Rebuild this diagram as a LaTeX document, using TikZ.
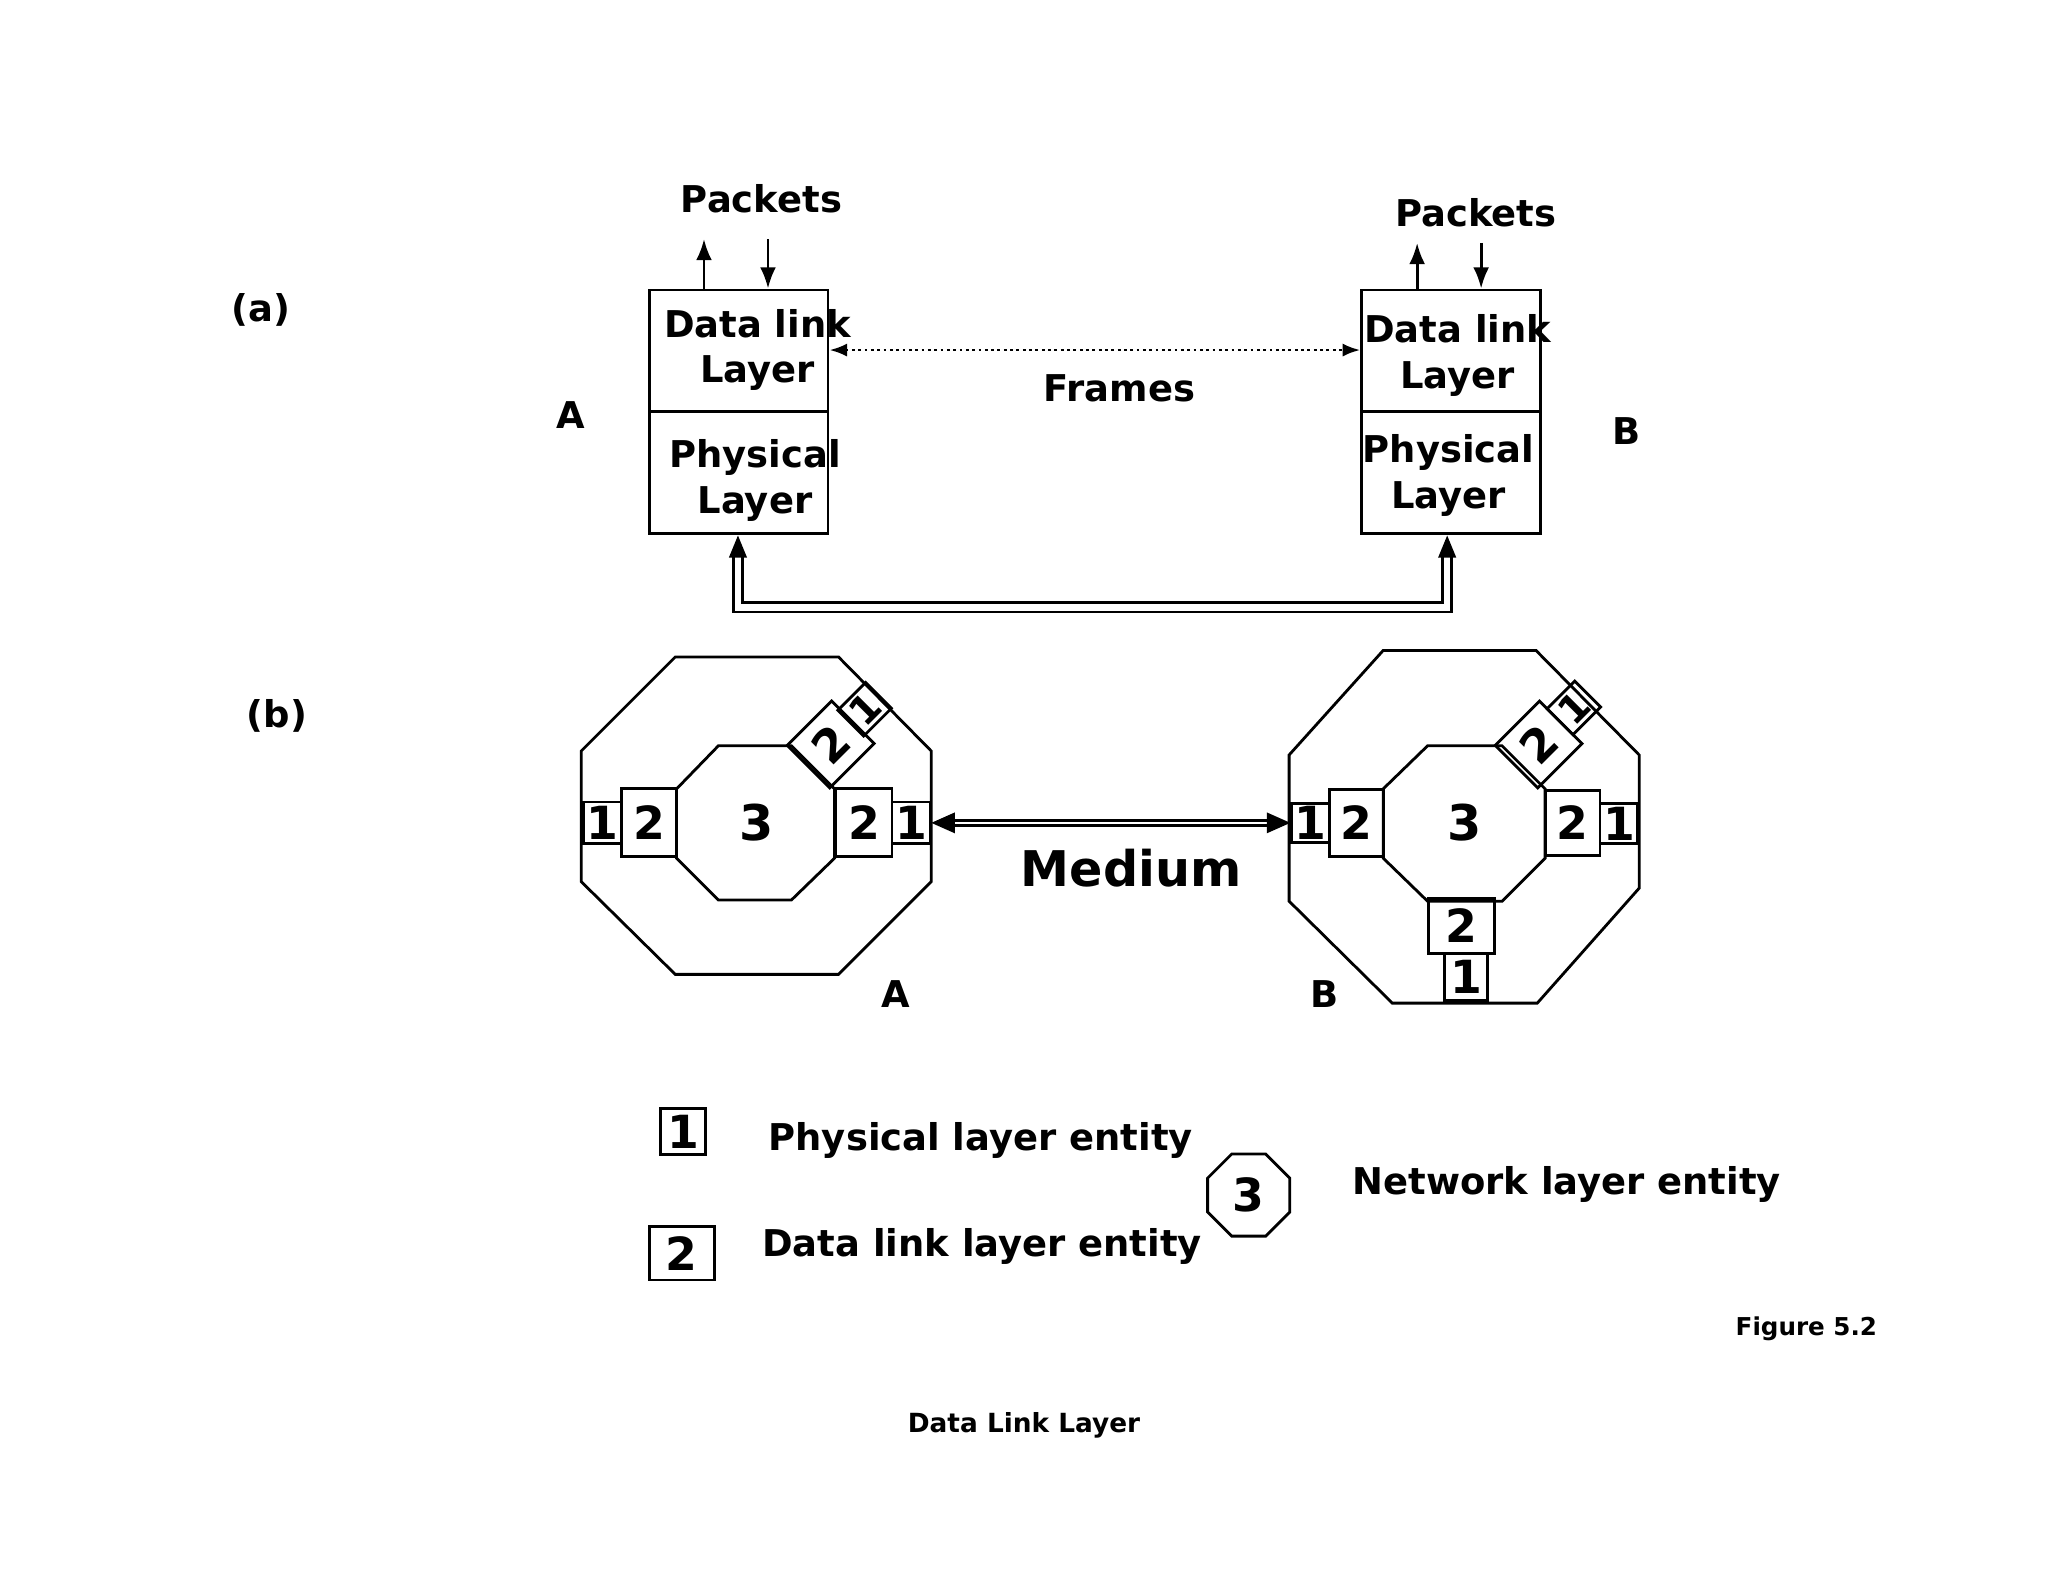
\documentclass[tikz,border=0pt]{standalone}
\usepackage{fontspec}
\setmainfont{DejaVu Sans}
\usetikzlibrary{arrows.meta,shapes.geometric}
\begin{document}
\begin{tikzpicture}[x=0.01306cm,y=-0.01306cm,
  lbl/.style={font=\bfseries\fontsize{10.5}{13}\selectfont},
  big/.style={font=\bfseries\fontsize{14}{16}\selectfont},
  ent/.style={draw,thick,inner sep=0pt,font=\bfseries\fontsize{13}{14}\selectfont},
  sm/.style={ent,font=\bfseries\fontsize{11}{12}\selectfont},
  lay/.style={draw,thick,minimum width=137*0.01306cm,minimum height=93*0.01306cm,inner sep=0pt},
  laytxt/.style={lbl,align=center,inner sep=0pt},
  oct/.style={thick}]
\useasboundingbox (0,0) rectangle (1568,1211);
% (a)
\node[lbl] (la) at (200,237) {(a)};
\node[lbl] (aA) at (437,318) {A};
\node[lbl] (aB) at (1245,330) {B};
\node[lay] (dlA) at (565.5,268.5) {};
\node[lay] (phA) at (565.5,362) {};
\node[lay] (dlB) at (1111,268.5) {};
\node[lay] (phB) at (1111,362) {};
\node[laytxt] (dlAt) at (580,268) {Data link\\Layer};
\node[laytxt] (phAt) at (578,368) {Physical\\Layer};
\node[laytxt] (dlBt) at (1116,272) {Data link\\Layer};
\node[laytxt] (phBt) at (1109,364) {Physical\\Layer};
\node[lbl] (pkA) at (583,152) {Packets};
\node[lbl] (pkB) at (1130,163) {Packets};
\coordinate (pa1) at (539,183); \coordinate (pa2) at (588,183);
\coordinate (pb1) at (1085,186); \coordinate (pb2) at (1134,186);
\draw[thick,-{Latex[length=6pt]}] (pa1 |- dlA.north) -- (pa1);
\draw[thick,-{Latex[length=6pt]}] (pa2) -- (pa2 |- dlA.north);
\draw[thick,-{Latex[length=6pt]}] (pb1 |- dlB.north) -- (pb1);
\draw[thick,-{Latex[length=6pt]}] (pb2) -- (pb2 |- dlB.north);
\draw[densely dotted,thick,{Latex[length=5pt]}-{Latex[length=5pt]}] (dlA.east |- 0,268) -- (dlB.west |- 0,268);
\node[lbl] (fr) at (857,297) {Frames};
\coordinate (m1) at (565,426); \coordinate (m2) at (1108,426);
\draw[thick,double,double distance=1.8pt] (m1) -- (565,465) -- (1108,465) -- (m2);
\fill (565,410) -- (558,427) -- (572,427) -- cycle;
\fill (1108,410) -- (1101,427) -- (1115,427) -- cycle;
% (b)
\node[lbl] (lb) at (212,548) {(b)};
\draw[oct] (517,503)--(642,503)--(713,575)--(713,675)--(642,746)--(517,746)--(445,675)--(445,575)--cycle;
\draw[oct] (550,571)--(606,571)--(639,604)--(639,657)--(606,689)--(550,689)--(518,657)--(518,604)--cycle;
\draw[oct] (1059,498)--(1176,498)--(1255,578)--(1255,680)--(1177,768)--(1066,768)--(987,690)--(987,578)--cycle;
\draw[oct] (1093,571)--(1150,571)--(1183,604)--(1183,657)--(1150,690)--(1093,690)--(1059,657)--(1059,604)--cycle;
\node[big] (nA) at (579,630) {3};
\node[big] (nB) at (1121,630) {3};
% A entities
\node[ent,minimum width=29*0.01306cm,minimum height=32*0.01306cm] (a1l) at (461.5,630) {1};
\node[ent,minimum width=42*0.01306cm,minimum height=52*0.01306cm] (a2l) at (497,630) {2};
\node[ent,minimum width=43*0.01306cm,minimum height=52*0.01306cm] (a2r) at (661.5,630) {2};
\node[ent,minimum width=29*0.01306cm,minimum height=32*0.01306cm] (a1r) at (697.5,630) {1};
\node[ent,rotate=45,minimum width=48*0.01306cm,minimum height=46*0.01306cm] (a2d) at (636,570) {2};
\node[sm,rotate=45,minimum width=30*0.01306cm,minimum height=28*0.01306cm] (a1d) at (662,543) {1};
% B entities
\node[ent,minimum width=29*0.01306cm,minimum height=30*0.01306cm] (b1l) at (1003.5,630) {1};
\node[ent,minimum width=41*0.01306cm,minimum height=51*0.01306cm] (b2l) at (1038.5,630) {2};
\node[ent,minimum width=42*0.01306cm,minimum height=50*0.01306cm] (b2r) at (1204,630) {2};
\node[ent,minimum width=29*0.01306cm,minimum height=31*0.01306cm] (b1r) at (1239.5,630.5) {1};
\node[ent,minimum width=50*0.01306cm,minimum height=42*0.01306cm] (b2b) at (1119,709) {2};
\node[ent,minimum width=33*0.01306cm,minimum height=36*0.01306cm] (b1b) at (1122.5,748) {1};
\node[ent,rotate=45,minimum width=48*0.01306cm,minimum height=46*0.01306cm] (b2d) at (1178,570) {2};
\node[sm,rotate=45,minimum width=30*0.01306cm,minimum height=28*0.01306cm] (b1d) at (1205,542) {1};
% medium: two parallel lines with heads
\draw[thick] ([xshift=14*0.01306cm,yshift=-2*0.01306cm]a1r.east) -- ([xshift=-14*0.01306cm,yshift=-2*0.01306cm]b1l.west);
\draw[thick] ([xshift=14*0.01306cm,yshift=2*0.01306cm]a1r.east) -- ([xshift=-14*0.01306cm,yshift=2*0.01306cm]b1l.west);
\fill (a1r.east) -- ++(18,-8) -- ++(0,16) -- cycle;
\fill (b1l.west) -- ++(-18,-8) -- ++(0,16) -- cycle;
\node[big] (med) at (866,665) {Medium};
\node[lbl] (bA) at (686,761) {A};
\node[lbl] (bB) at (1014,761) {B};
% legend
\node[ent,minimum width=34*0.01306cm,minimum height=35*0.01306cm] (k1) at (523,866.5) {1};
\node[lbl,anchor=west] (t1) at (579,873) {Physical layer entity};
\node[ent,minimum width=50*0.01306cm,minimum height=41*0.01306cm] (k2) at (522,959.5) {2};
\node[lbl,anchor=west] (t2) at (574,954) {Data link layer entity};
\node[draw,thick,regular polygon,regular polygon sides=8,minimum size=68*0.01306cm,inner sep=0pt,font=\bfseries\fontsize{13}{14}\selectfont] (k3) at (956,915) {3};
\node[lbl,anchor=west] (t3) at (1026,907) {Network layer entity};
\node[font=\bfseries\fontsize{7}{8}\selectfont] (fig) at (1383,1017) {Figure 5.2};
\node[font=\bfseries\fontsize{7.5}{8}\selectfont] (tit) at (784,1091) {Data Link Layer};
\end{tikzpicture}
\end{document}
